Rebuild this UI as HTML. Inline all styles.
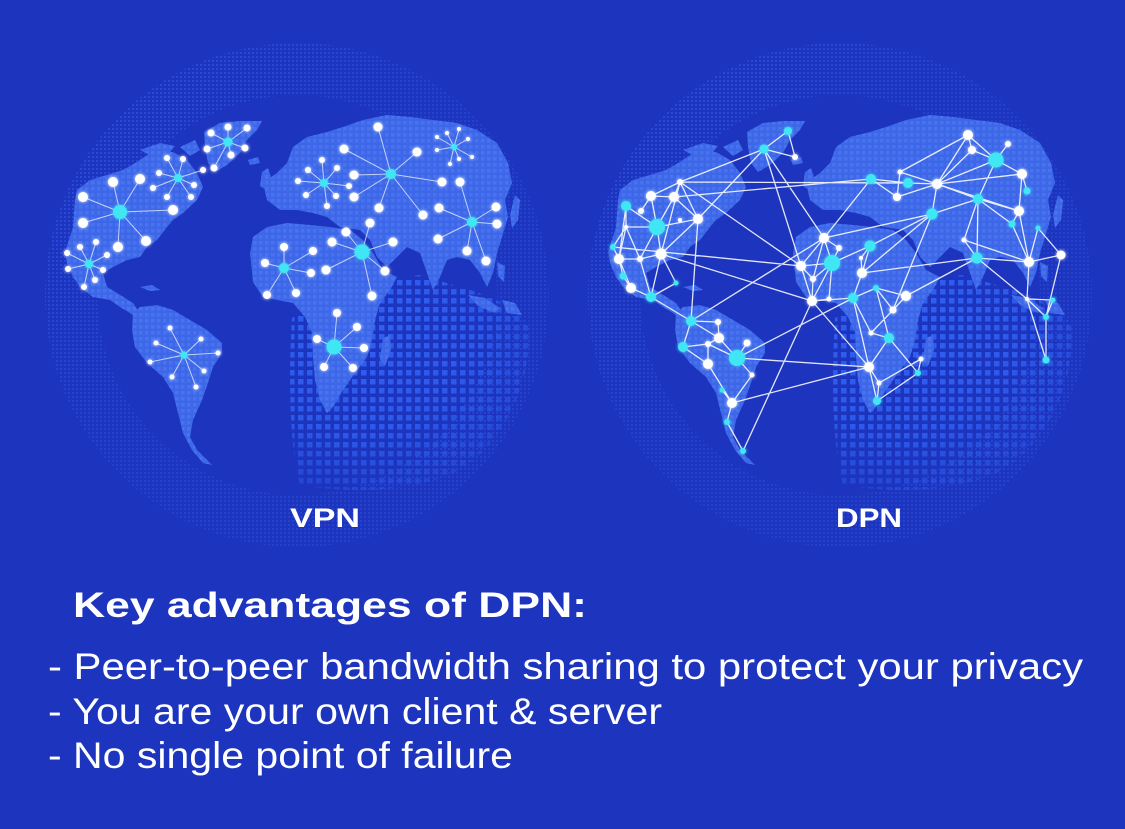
<!DOCTYPE html>
<html>
<head>
<meta charset="utf-8">
<style>
html,body{margin:0;padding:0;background:#1d35be;}
body{width:1125px;height:829px;overflow:hidden;}
svg{display:block;}
</style>
</head>
<body>
<svg width="1125" height="829" viewBox="0 0 1125 829" xmlns="http://www.w3.org/2000/svg">
<defs>
  <pattern id="pOcean" width="9" height="9" patternUnits="userSpaceOnUse">
    <rect x="1" y="1" width="5.5" height="5.5" fill="#3060f2"/>
  </pattern>
  <pattern id="pLand" width="6" height="6" patternUnits="userSpaceOnUse">
    <rect x="1" y="1" width="3.5" height="3.5" fill="#5582f5" opacity="0.45"/>
  </pattern>
  <pattern id="pFine" width="4" height="4" patternUnits="userSpaceOnUse">
    <rect x="0" y="0" width="2" height="2" fill="#3058e6"/>
  </pattern>
  <radialGradient id="gOcean" cx="0.3" cy="0.25" r="0.85">
    <stop offset="0" stop-color="#fff" stop-opacity="1"/>
    <stop offset="0.55" stop-color="#fff" stop-opacity="0.85"/>
    <stop offset="1" stop-color="#fff" stop-opacity="0.15"/>
  </radialGradient>
  <linearGradient id="gRing" x1="0" y1="0" x2="1" y2="1">
    <stop offset="0" stop-color="#fff" stop-opacity="0.75"/>
    <stop offset="0.5" stop-color="#fff" stop-opacity="0.35"/>
    <stop offset="1" stop-color="#fff" stop-opacity="0.45"/>
  </linearGradient>
  <mask id="mOcean" maskUnits="userSpaceOnUse" x="270" y="250" width="280" height="260">
    <rect x="280" y="260" width="260" height="240" fill="url(#gOcean)"/>
  </mask>
  <mask id="mRing" maskUnits="userSpaceOnUse" x="30" y="30" width="540" height="540">
    <rect x="40" y="40" width="515" height="510" fill="url(#gRing)"/>
  </mask>
  <filter id="glow" x="-50%" y="-50%" width="200%" height="200%">
    <feGaussianBlur stdDeviation="1.6" result="b"/>
    <feMerge><feMergeNode in="b"/><feMergeNode in="SourceGraphic"/></feMerge>
  </filter>
  <path id="land" d="
M77,190 L90,180 L107,175 L123,170 L137,162 L150,153 L173,152 L187,160 L197,173 L203,187 L197,200 L183,213 L173,220 L167,227 L157,240 L147,247 L140,257 L127,260 L113,267 L103,273 L107,287 L117,293 L133,303 L141,315 L136,318 L130,313 L120,307 L110,300 L93,297 L80,287 L73,277 L67,263 L65,252 L70,237 L73,227 L75,200 Z
M204,132 L220,123 L240,121 L262,121 L257,130 L247,140 L240,153 L227,165 L215,172 L208,163 L205,147 Z
M140,150 L160,143 L175,146 L170,152 L150,155 Z
M180,147 L195,140 L200,150 L190,156 Z
M140,287 L152,285 L160,290 L150,291 Z
M133,313 L140,307 L157,305 L173,310 L190,320 L207,330 L222,343 L222,353 L213,367 L208,383 L202,400 L193,420 L190,437 L197,450 L212,465 L203,463 L192,450 L183,433 L178,413 L173,393 L163,377 L147,363 L135,347 L132,330 Z
M280,210 L267,200 L263,183 L277,173 L287,163 L293,147 L307,137 L327,132 L343,127 L363,120 L387,115 L410,117 L433,120 L457,123 L477,130 L497,143 L508,163 L512,183 L505,200 L508,217 L502,237 L497,253 L493,273 L487,287 L480,273 L470,260 L457,257 L447,260 L440,277 L433,290 L427,273 L420,253 L407,247 L397,257 L387,267 L377,257 L370,240 L360,230 L340,227 L327,217 L313,213 L297,210 Z
M262,172 L268,168 L272,180 L266,190 L260,186 Z
M248,160 L258,157 L260,163 L250,165 Z
M250,253 L253,237 L267,227 L287,223 L310,225 L330,227 L350,230 L363,240 L373,253 L383,270 L397,277 L390,290 L380,303 L375,320 L372,340 L367,357 L355,373 L343,390 L333,407 L327,413 L320,400 L315,380 L313,357 L312,333 L305,317 L293,303 L277,300 L263,297 L253,282 Z
M383,338 L390,335 L391,350 L385,366 L380,360 Z
M515,195 L520,200 L518,220 L512,228 L510,215 Z
M468,295 L485,298 L500,308 L495,313 L478,306 Z
M502,300 L515,303 L522,315 L507,313 Z
M497,262 L505,266 L504,282 L498,276 Z"/>
  <g id="globe">
    <path fill-rule="evenodd" fill="url(#pFine)" mask="url(#mRing)"
      d="M297,43 A252,252 0 1,1 296.9,43 Z M297,95 A200,200 0 1,0 297.1,95 Z"/>
    <path fill="url(#pOcean)" mask="url(#mOcean)"
      d="M292,318 C330,300 380,280 420,275 L470,290 C500,300 520,310 530,330 C528,390 505,440 460,470 C420,490 360,495 300,485 C290,450 288,380 292,318 Z"/>
    <use href="#land" fill="#3d67e8"/>
    <use href="#land" fill="url(#pLand)"/>
  </g>
</defs>

<rect width="1125" height="829" fill="#1d35be"/>

<use href="#globe"/>
<use href="#globe" transform="translate(543,0)"/>

<!-- VPN spokes -->
<path fill="none" stroke="#ffffff" stroke-opacity="0.7" stroke-width="1" d="
M120,212L113,182M120,212L140,179M120,212L83,197M120,212L83,223M120,212L118,247M120,212L146,241M120,212L173,210
M89,264L80,247M89,264L96,242M89,264L107,255M89,264L103,270M89,264L95,280M89,264L84,287M89,264L68,269M89,264L67,253
M228,142L211,133M228,142L228,127M228,142L247,128M228,142L245,148M228,142L231,155M228,142L214,168M228,142L207,149
M178,178L167,158M178,178L183,159M178,178L159,173M178,178L153,188M178,178L167,197M178,178L191,197M178,178L194,185M178,178L203,170
M184,355L170,328M184,355L201,339M184,355L156,343M184,355L218,353M184,355L150,362M184,355L204,371M184,355L172,377M184,355L196,387
M324,183L322,160M324,183L308,170M324,183L337,168M324,183L298,181M324,183L349,186M324,183L306,195M324,183L336,196M324,183L327,206
M391,174L378,127M391,174L344,149M391,174L417,152M391,174L354,175M391,174L442,182M391,174L354,197M391,174L379,208M391,174L423,215
M454,147L447,133M454,147L459,129M454,147L468,139M454,147L472,157M454,147L459,159M454,147L450,164M454,147L437,150M454,147L437,137
M472,222L460,182M472,222L439,208M472,222L496,207M472,222L497,224M472,222L438,239M472,222L467,251M472,222L486,261
M362,252L370,223M362,252L346,232M362,252L393,242M362,252L332,242M362,252L326,270M362,252L385,271M362,252L372,296
M284,268L284,247M284,268L313,251M284,268L265,263M284,268L311,273M284,268L267,295M284,268L296,293
M334,347L337,313M334,347L357,327M334,347L317,339M334,347L364,348M334,347L324,367M334,347L353,368"/>

<!-- VPN nodes -->
<g filter="url(#glow)">
<g fill="#ffffff">
<circle cx="113" cy="182" r="5"/><circle cx="140" cy="179" r="5"/><circle cx="83" cy="197" r="5"/><circle cx="83" cy="223" r="5"/><circle cx="118" cy="247" r="5"/><circle cx="146" cy="241" r="5"/><circle cx="173" cy="210" r="5"/>
<circle cx="80" cy="247" r="3"/><circle cx="96" cy="242" r="3"/><circle cx="107" cy="255" r="3"/><circle cx="103" cy="270" r="3"/><circle cx="95" cy="280" r="3"/><circle cx="84" cy="287" r="3"/><circle cx="68" cy="269" r="3"/><circle cx="67" cy="253" r="3"/>
<circle cx="211" cy="133" r="3.5"/><circle cx="228" cy="127" r="3.5"/><circle cx="247" cy="128" r="3.5"/><circle cx="245" cy="148" r="3.5"/><circle cx="231" cy="155" r="3.5"/><circle cx="214" cy="168" r="3.5"/><circle cx="207" cy="149" r="3.5"/>
<circle cx="167" cy="158" r="3"/><circle cx="183" cy="159" r="3"/><circle cx="159" cy="173" r="3"/><circle cx="153" cy="188" r="3"/><circle cx="167" cy="197" r="3"/><circle cx="191" cy="197" r="3"/><circle cx="194" cy="185" r="3"/><circle cx="203" cy="170" r="3"/>
<circle cx="170" cy="328" r="2.5"/><circle cx="201" cy="339" r="2.5"/><circle cx="156" cy="343" r="2.5"/><circle cx="218" cy="353" r="2.5"/><circle cx="150" cy="362" r="2.5"/><circle cx="204" cy="371" r="2.5"/><circle cx="172" cy="377" r="2.5"/><circle cx="196" cy="387" r="2.5"/>
<circle cx="322" cy="160" r="3"/><circle cx="308" cy="170" r="3"/><circle cx="337" cy="168" r="3"/><circle cx="298" cy="181" r="3"/><circle cx="349" cy="186" r="3"/><circle cx="306" cy="195" r="3"/><circle cx="336" cy="196" r="3"/><circle cx="327" cy="206" r="3"/>
<circle cx="378" cy="127" r="4.5"/><circle cx="344" cy="149" r="4.5"/><circle cx="417" cy="152" r="4.5"/><circle cx="354" cy="175" r="4.5"/><circle cx="442" cy="182" r="4.5"/><circle cx="354" cy="197" r="4.5"/><circle cx="379" cy="208" r="4.5"/><circle cx="423" cy="215" r="4.5"/>
<circle cx="447" cy="133" r="2"/><circle cx="459" cy="129" r="2"/><circle cx="468" cy="139" r="2"/><circle cx="472" cy="157" r="2"/><circle cx="459" cy="159" r="2"/><circle cx="450" cy="164" r="2"/><circle cx="437" cy="150" r="2"/><circle cx="437" cy="137" r="2"/>
<circle cx="460" cy="182" r="4.5"/><circle cx="439" cy="208" r="4.5"/><circle cx="496" cy="207" r="4.5"/><circle cx="497" cy="224" r="4.5"/><circle cx="438" cy="239" r="4.5"/><circle cx="467" cy="251" r="4.5"/><circle cx="486" cy="261" r="4.5"/>
<circle cx="370" cy="223" r="4.5"/><circle cx="346" cy="232" r="4.5"/><circle cx="393" cy="242" r="4.5"/><circle cx="332" cy="242" r="4.5"/><circle cx="326" cy="270" r="4.5"/><circle cx="385" cy="271" r="4.5"/><circle cx="372" cy="296" r="4.5"/>
<circle cx="284" cy="247" r="4"/><circle cx="313" cy="251" r="4"/><circle cx="265" cy="263" r="4"/><circle cx="311" cy="273" r="4"/><circle cx="267" cy="295" r="4"/><circle cx="296" cy="293" r="4"/>
<circle cx="337" cy="313" r="4"/><circle cx="357" cy="327" r="4"/><circle cx="317" cy="339" r="4"/><circle cx="364" cy="348" r="4"/><circle cx="324" cy="367" r="4"/><circle cx="353" cy="368" r="4"/>
</g>
<g fill="#40e6f4">
<circle cx="120" cy="212" r="7"/><circle cx="89" cy="264" r="4"/><circle cx="228" cy="142" r="4.5"/><circle cx="178" cy="178" r="4"/><circle cx="184" cy="355" r="3.5"/><circle cx="324" cy="183" r="4"/><circle cx="391" cy="174" r="5"/><circle cx="454" cy="147" r="3"/><circle cx="472" cy="222" r="5"/><circle cx="362" cy="252" r="7.5"/><circle cx="284" cy="268" r="5"/><circle cx="334" cy="347" r="7.5"/>
</g>
</g>

<!-- DPN links -->
<path fill="none" stroke="#ffffff" stroke-opacity="0.88" stroke-width="1.3" d="
M788 131L764 149M788 131L795 157M764 149L795 157M764 149L680 182M764 149L698 219M764 149L824 238M764 149L812 301
M680 182L651 196M680 182L674 197M680 182L698 219M680 182L661 254M680 182L908 183M680 182L801 266
M651 196L657 227M651 196L641 211M651 196L674 197
M674 197L871 179M674 197L657 227M674 197L698 219
M626 206L657 227M626 206L626 227M626 206L619 259
M657 227L698 219M657 227L661 254M657 227L626 227M657 227L640 259
M698 219L661 254M698 219L691 321
M626 227L613 247M626 227L619 259M626 227L640 259
M613 247L619 259M613 247L801 266
M619 259L640 259M619 259L623 276M619 259L631 288
M640 259L661 254M640 259L651 297
M661 254L651 297M661 254L676 283M661 254L812 301
M623 276L631 288M631 288L651 297M651 297L676 283M651 297L691 321
M691 321L718 322M691 321L683 347M691 321L719 338M691 321L824 238
M718 322L719 338M719 338L708 344M683 347L708 344M683 347L708 364M708 344L708 364M719 338L737 358M708 344L737 358
M747 343L737 358M737 358L752 375M737 358L853 298M737 358L869 367
M708 364L732 403M722 390L732 403M732 403L727 422M727 422L743 451M732 403L869 367M743 451L812 301M752 375L732 403
M824 238L839 248M824 238L832 263M824 238L801 266M824 238L871 179M824 238L813 279M824 238L932 214
M871 179L908 183M871 179L897 197
M908 183L937 184M900 172L937 184M900 172L968 135M900 172L897 197M897 197L937 184
M937 184L968 135M937 184L972 150M937 184L996 160M937 184L1022 174M937 184L978 199M937 184L932 214M937 184L1019 211
M968 135L972 150M968 135L996 160M972 150L996 160M1008 144L996 160M996 160L1022 174M996 160L978 199M1022 174L1019 211M1022 174L1027 191
M978 199L932 214M978 199L1019 211M978 199L1012 224M978 199L964 240M978 199L977 258
M932 214L870 246M932 214L862 273M932 214L893 310
M1019 211L1012 224M1019 211L1029 262M1012 224L1029 262M1038 228L1029 262M1038 228L1061 255M964 240L1029 262M964 240L977 258M977 258L862 273M977 258L906 296M977 258L1029 262M977 258L1027 299M1029 262L1061 255M1029 262L1027 299M1061 255L1046 317
M1027 299L1053 300M1027 299L1046 317M1053 300L1046 317M1046 317L1046 360M1027 299L1046 360
M839 248L832 263M870 246L832 263M870 246L861 258M870 246L862 273M832 263L801 266M832 263L813 279M832 263L829 299M832 263L812 301M801 266L813 279M801 266L812 301M813 279L812 301M829 299L812 301
M862 273L861 258M862 273L853 298M853 298L876 288M853 298L869 367M853 298L812 301M853 298L871 333
M876 288L906 296M876 288L893 310M876 288L889 338M906 296L893 310M893 310L871 333M871 333L889 338M889 338L869 367M889 338L918 373M869 367L879 383M879 383L921 359M879 383L877 401M921 359L918 373M918 373L877 401M869 367L877 401M812 301L869 367"/>

<!-- DPN nodes -->
<g filter="url(#glow)">
<g fill="#ffffff">
<circle cx="795" cy="157" r="3"/><circle cx="680" cy="182" r="3"/><circle cx="651" cy="196" r="5"/><circle cx="674" cy="197" r="5"/><circle cx="641" cy="211" r="3"/><circle cx="698" cy="219" r="5"/><circle cx="680" cy="220" r="2"/><circle cx="626" cy="227" r="2"/><circle cx="619" cy="259" r="5"/><circle cx="640" cy="259" r="3"/><circle cx="661" cy="254" r="5.5"/><circle cx="631" cy="288" r="5"/><circle cx="718" cy="322" r="3"/><circle cx="719" cy="338" r="5"/><circle cx="708" cy="344" r="3"/><circle cx="708" cy="364" r="5"/><circle cx="747" cy="343" r="3.5"/><circle cx="752" cy="375" r="2.5"/><circle cx="732" cy="403" r="5"/>
<circle cx="900" cy="172" r="2.5"/><circle cx="897" cy="197" r="4"/><circle cx="937" cy="184" r="5"/><circle cx="968" cy="135" r="5"/><circle cx="972" cy="150" r="4"/><circle cx="1008" cy="144" r="3"/><circle cx="1022" cy="174" r="5"/><circle cx="1019" cy="211" r="5"/><circle cx="964" cy="240" r="2.5"/><circle cx="1029" cy="262" r="5"/><circle cx="1061" cy="255" r="4.5"/><circle cx="824" cy="238" r="5"/><circle cx="839" cy="248" r="3"/><circle cx="801" cy="266" r="5"/><circle cx="862" cy="273" r="5"/><circle cx="861" cy="258" r="2"/><circle cx="813" cy="279" r="3"/><circle cx="829" cy="299" r="2.5"/><circle cx="812" cy="301" r="5"/><circle cx="906" cy="296" r="5"/><circle cx="893" cy="310" r="3.5"/><circle cx="871" cy="333" r="2.5"/><circle cx="869" cy="367" r="5"/><circle cx="879" cy="383" r="2.5"/><circle cx="921" cy="359" r="2.5"/><circle cx="1027" cy="299" r="2"/>
</g>
<g fill="#40e6f4">
<circle cx="788" cy="131" r="4"/><circle cx="764" cy="149" r="4.5"/><circle cx="626" cy="206" r="5"/><circle cx="657" cy="227" r="8"/><circle cx="613" cy="247" r="3"/><circle cx="623" cy="276" r="3.5"/><circle cx="651" cy="297" r="5"/><circle cx="676" cy="283" r="2.5"/><circle cx="691" cy="321" r="5"/><circle cx="683" cy="347" r="5"/><circle cx="737" cy="358" r="8"/><circle cx="722" cy="390" r="2.5"/><circle cx="727" cy="422" r="3"/><circle cx="743" cy="451" r="3"/>
<circle cx="871" cy="179" r="5"/><circle cx="908" cy="183" r="5"/><circle cx="996" cy="160" r="7.5"/><circle cx="1027" cy="191" r="3.5"/><circle cx="978" cy="199" r="5"/><circle cx="932" cy="214" r="5.5"/><circle cx="1012" cy="224" r="3.5"/><circle cx="1038" cy="228" r="2.5"/><circle cx="977" cy="258" r="5.5"/><circle cx="870" cy="246" r="5.5"/><circle cx="832" cy="263" r="8"/><circle cx="853" cy="298" r="5"/><circle cx="876" cy="288" r="3"/><circle cx="889" cy="338" r="5"/><circle cx="918" cy="373" r="3"/><circle cx="877" cy="401" r="4"/><circle cx="1053" cy="300" r="2.5"/><circle cx="1046" cy="317" r="3"/><circle cx="1046" cy="360" r="3.5"/>
</g>
</g>

<!-- Labels -->
<g fill="#ffffff" font-family="'Liberation Sans', Arial, sans-serif">
  <text x="290" y="527" font-size="27" font-weight="bold" textLength="70" lengthAdjust="spacingAndGlyphs">VPN</text>
  <text x="836" y="527" font-size="27" font-weight="bold" textLength="66" lengthAdjust="spacingAndGlyphs">DPN</text>
  <text x="73" y="617" font-size="35" font-weight="bold" textLength="514" lengthAdjust="spacingAndGlyphs">Key advantages of DPN:</text>
  <text x="48" y="679" font-size="37" textLength="1035" lengthAdjust="spacingAndGlyphs">- Peer-to-peer bandwidth sharing to protect your privacy</text>
  <text x="48" y="724" font-size="37" textLength="614" lengthAdjust="spacingAndGlyphs">- You are your own client &amp; server</text>
  <text x="48" y="768" font-size="37" textLength="465" lengthAdjust="spacingAndGlyphs">- No single point of failure</text>
</g>
</svg>
</body>
</html>
